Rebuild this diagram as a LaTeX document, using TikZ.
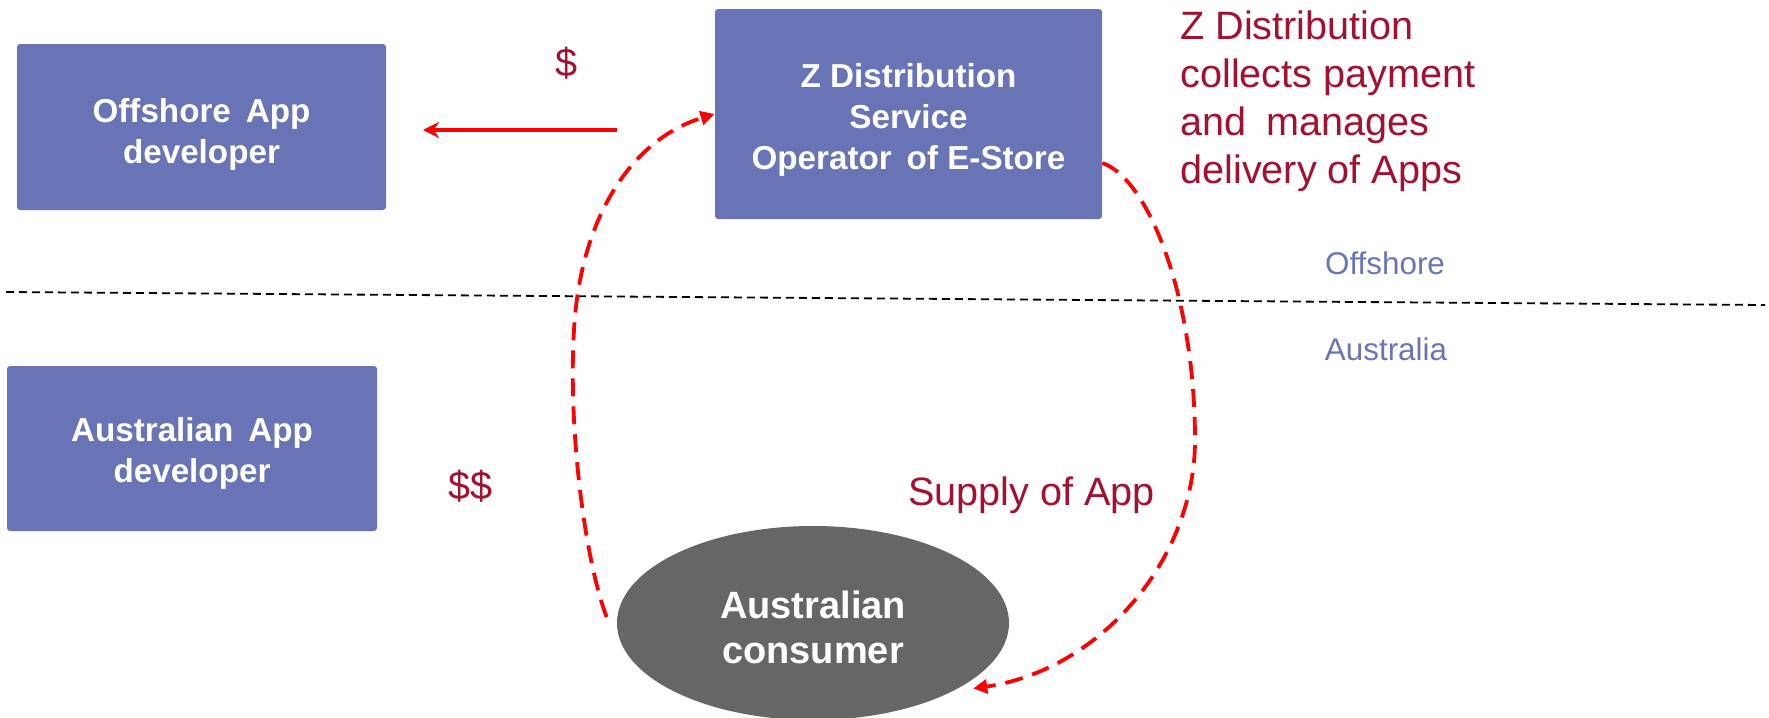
\documentclass[tikz,border=0pt]{standalone}
\usepackage{fontspec}
\setmainfont{Liberation Sans}
\usetikzlibrary{arrows.meta,shapes.geometric}
\definecolor{boxblue}{RGB}{104,116,182}
\definecolor{tagblue}{RGB}{106,117,184}
\definecolor{notered}{RGB}{163,16,48}
\definecolor{consgray}{RGB}{102,102,102}
\definecolor{flowred}{RGB}{255,0,0}
% invisible strut that lowers a multi-line label inside its shape
\newcommand\toplift[1]{\rule{0pt}{#1}}

\begin{document}
\begin{tikzpicture}[x=0.5pt,y=-0.5pt,
  party/.style={rectangle, rounded corners=1.5pt, fill=boxblue, text=white,
    font=\fontsize{16.6}{20.5}\selectfont\bfseries, align=center, inner sep=0pt},
  consumer/.style={ellipse, fill=consgray, text=white,
    font=\fontsize{19}{22.5}\selectfont\bfseries, align=center, inner sep=0pt},
  note/.style={text=notered, font=\fontsize{19.8}{24}\selectfont, inner sep=0pt},
  region/.style={text=tagblue, font=\fontsize{15.7}{18}\selectfont, inner sep=0pt},
  payflow/.style={draw=flowred, line width=1.7pt, -{Stealth[length=8pt,width=8pt]}},
  loopflow/.style={draw=flowred, line width=1.9pt, dash pattern=on 9pt off 5pt,
    -{Triangle[length=7pt,width=7pt]}},
  border/.style={draw=black, line width=0.9pt, dash pattern=on 4pt off 2.5pt}]

\useasboundingbox (0,0) rectangle (1769,718);

% parties
\node[party, minimum width=184.5pt, minimum height=83pt] (offshore) at (201.5,127)
  {\toplift{19.6pt}Offshore\hspace{0.45em}App\\developer};
\node[party, minimum width=193.5pt, minimum height=105pt] (zdist) at (908.5,114)
  {\toplift{17.7pt}Z Distribution\\Service\\Operator\hspace{0.45em}of E-Store};
\node[party, minimum width=185pt, minimum height=82.5pt] (ausdev) at (192,448.5)
  {\toplift{17.2pt}Australian\hspace{0.45em}App\\developer};
\node[consumer, minimum width=196pt, minimum height=97pt] (consumer) at (813,623)
  {\toplift{17.9pt}Australian\\consumer};

% offshore / Australia border
\coordinate (borderL) at (6,292);
\coordinate (borderR) at (1765,305);
\draw[border] (borderL) -- (borderR);
\node[region] (offlbl) at (1385,263) {Offshore};
\node[region] (auslbl) at (1386,349) {Australia};

% money and supply notes
\node[note] (pay1) at (567,63) {\$};
\node[note] (pay2) at (471,486) {\$\$};
\node[note, anchor=base west] (supply) at (908,505) {Supply of App};
\node[note, anchor=north west, align=left] (role) at (1180,10)
  {Z Distribution\\collects payment\\and\hspace{0.5em}manages\\delivery of Apps};

% payment to the offshore developer
\coordinate (payStart) at (617,130);
\coordinate (payEnd) at (423,130);
\draw[payflow] (payStart) -- (payEnd);

% consumer pays the distributor
\draw[loopflow] ([xshift=-5pt,yshift=3pt]consumer.west)
  .. controls (585,560) and (568,430) .. (574,330)
  .. controls (580,220) and (630,140) .. (zdist.west);

% distributor supplies the app
\draw[loopflow] ([yshift=-24.5pt]zdist.east)
  .. controls (1150,180) and (1195,300) .. (1195,440)
  .. controls (1195,560) and (1100,670) .. ([xshift=4pt,yshift=-2pt]consumer.-22);
\end{tikzpicture}
\end{document}
